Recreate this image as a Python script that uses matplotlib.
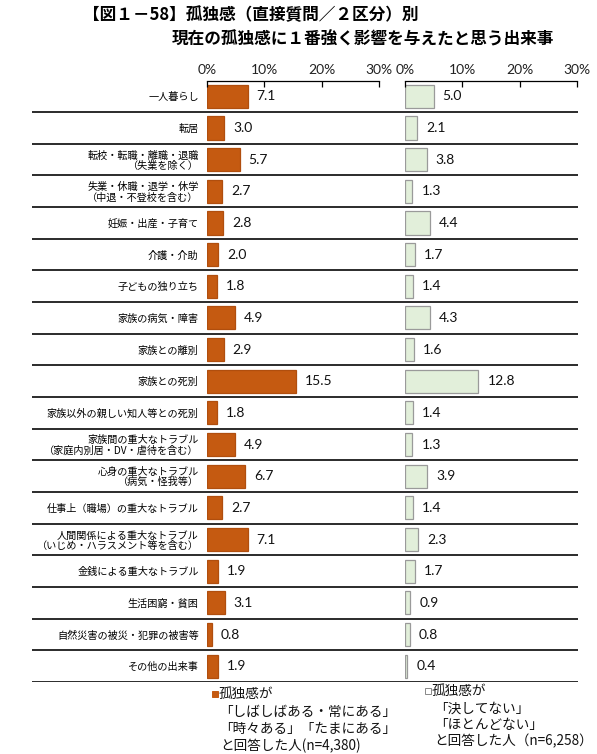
import matplotlib
matplotlib.use("Agg")
import matplotlib.pyplot as plt
import numpy as np

plt.rcParams['font.family'] = ['Noto Sans CJK JP', 'DejaVu Sans']

categories = [
    "一人暮らし",
    "転居",
    "転校・転職・離職・退職\n（失業を除く）",
    "失業・休職・退学・休学\n（中退・不登校を含む）",
    "妊娠・出産・子育て",
    "介護・介助",
    "子どもの独り立ち",
    "家族の病気・障害",
    "家族との離別",
    "家族との死別",
    "家族以外の親しい知人等との死別",
    "家族間の重大なトラブル\n（家庭内別居・DV・虐待を含む）",
    "心身の重大なトラブル\n（病気・怪我等）",
    "仕事上（職場）の重大なトラブル",
    "人間関係による重大なトラブル\n（いじめ・ハラスメント等を含む）",
    "金銭による重大なトラブル",
    "生活困窮・貧困",
    "自然災害の被災・犯罪の被害等",
    "その他の出来事",
]
lonely = [7.1, 3.0, 5.7, 2.7, 2.8, 2.0, 1.8, 4.9, 2.9, 15.5, 1.8, 4.9, 6.7, 2.7, 7.1, 1.9, 3.1, 0.8, 1.9]
not_lonely = [5.0, 2.1, 3.8, 1.3, 4.4, 1.7, 1.4, 4.3, 1.6, 12.8, 1.4, 1.3, 3.9, 1.4, 2.3, 1.7, 0.9, 0.8, 0.4]
xticks = [0, 10, 20, 30]
xtick_labels = ["0%", "10%", "20%", "30%"]
title1 = "【図１－58】孤独感（直接質問／２区分）別"
title2 = "現在の孤独感に１番強く影響を与えたと思う出来事"
legend_left = ["孤独感が", "「しばしばある・常にある」", "「時々ある」「たまにある」", "と回答した人(n=4,380)"]
legend_right = ["孤独感が", "「決してない」", "「ほとんどない」", "と回答した人（n=6,258）"]

W, H = 597, 754
fig = plt.figure(figsize=(W / 100, H / 100), dpi=100)

def box(x0, x1, ytop, ybot):
    return [x0 / W, 1 - ybot / H, (x1 - x0) / W, (ybot - ytop) / H]

ytop, ybot = 80.5, 682
n = len(categories)
pos = np.arange(n)

orange = "#C55A11"
green = "#E2EFDA"

bg = fig.add_axes(box(32, 578, ytop, ybot))
bg.set_xlim(0, 1)
bg.set_ylim(n - 0.5, -0.5)
bg.axis("off")
bg.hlines(pos + 0.5, 0, 1, color="#1a1a1a", lw=1.3)

ax1 = fig.add_axes(box(207, 379, ytop, ybot))
ax2 = fig.add_axes(box(405, 577, ytop, ybot))

num_font = "Lato"
for ax, vals, col, ec in [(ax1, lonely, orange, "#B04E0E"), (ax2, not_lonely, green, "#9a9a9a")]:
    ax.patch.set_alpha(0)
    ax.barh(pos, vals, height=0.73, color=col, edgecolor=ec, linewidth=0.9)
    ax.set_xlim(0, 30)
    ax.set_ylim(n - 0.5, -0.5)
    for s in ["bottom", "left", "right"]:
        ax.spines[s].set_visible(False)
    ax.spines["top"].set_linewidth(0.9)
    ax.xaxis.tick_top()
    ax.set_xticks(xticks)
    ax.set_xticklabels(xtick_labels, fontsize=10, family=num_font, color="#222222")
    ax.tick_params(axis="x", direction="in", length=4, width=0.9, pad=3)
    for i, v in enumerate(vals):
        ax.annotate(f"{v:.1f}", (v, i), xytext=(6.5, 0), textcoords="offset points",
                    va="center", ha="left", fontsize=10, family=num_font, color="#111111")

ax1.set_yticks(pos)
ax1.set_yticklabels(categories, fontsize=7.3, linespacing=1.0)
for lab in ax1.get_yticklabels():
    lab.set_multialignment("right")
ax1.tick_params(axis="y", length=0, pad=6)
ax2.set_yticks([])

fig.text(83 / W, 1 - 15 / H, title1, fontsize=12, fontweight="bold", va="center", ha="left")
fig.text(172 / W, 1 - 39 / H, title2, fontsize=12, fontweight="bold", va="center", ha="left")

def legend(x_sq, y_rows, x_text, lines, face, edge):
    from matplotlib.patches import Rectangle
    fig.add_artist(Rectangle(((x_sq - 3) / W, 1 - (y_rows[0] + 3) / H), 6 / W, 6 / H,
                             facecolor=face, edgecolor=edge, lw=0.7, transform=fig.transFigure))
    for (xt, yt, t) in zip(x_text, y_rows, lines):
        fig.text(xt / W, 1 - yt / H, t, fontsize=9.8, va="center", ha="left", color="#111111")

legend(215, [694, 712, 729, 746], [219, 219, 219, 220], legend_left, orange, orange)
legend(428, [691, 709, 725, 741], [432, 434, 434, 434], legend_right, "white", "#888888")

fig.savefig("out.png", dpi=100)
